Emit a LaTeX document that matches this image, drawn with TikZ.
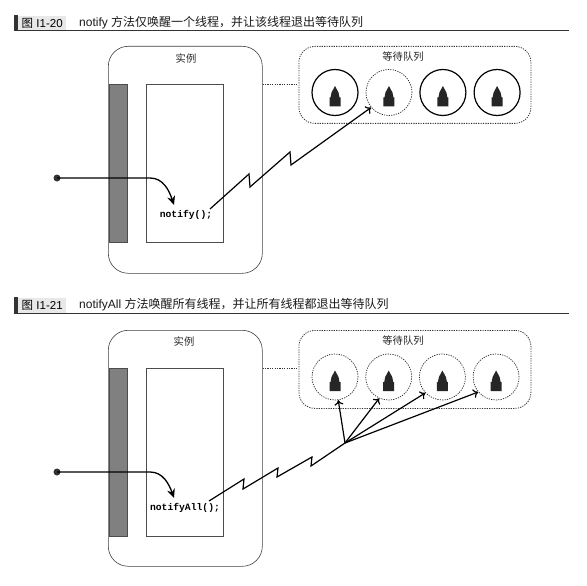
\documentclass[tikz,border=0pt]{standalone}
\usepackage{fontspec}
\setmainfont{Liberation Sans}
\setmonofont{Liberation Mono}
\newfontfamily\cjk{Noto Sans CJK SC}
\usetikzlibrary{positioning,arrows.meta}

\tikzset{
  hdtag/.style={fill=black!9,minimum width=48pt,minimum height=15pt,inner sep=0pt,anchor=south west,font=\fontsize{11.5}{12}\selectfont},
  hdbar/.style={fill=black!80,minimum width=4pt,minimum height=16pt,inner sep=0pt,anchor=south east},
  hdtitle/.style={inner sep=0pt,anchor=west,text=black!90,font=\fontsize{12}{12}\selectfont},
  inst/.style={draw=black!75,line width=0.6pt,rounded corners=20pt,minimum width=154pt,inner sep=0pt,anchor=north west},
  lock/.style={draw=black!70,fill=black!50,line width=0.5pt,minimum width=18pt,inner sep=0pt,anchor=north west},
  body/.style={draw=black!70,line width=0.6pt,minimum width=77pt,inner sep=0pt,anchor=north west},
  queue/.style={draw=black!80,dash pattern=on 1.2pt off 1.2pt,line width=0.8pt,rounded corners=16pt,fill=white,minimum width=232pt,minimum height=77pt,inner sep=0pt,anchor=north west},
  lbl/.style={inner sep=0pt,text=black!85,font=\fontsize{10.3}{10}\selectfont\cjk},
  thr/.style={circle,minimum size=46pt,inner sep=0pt,draw=black,line width=1.2pt},
  thrd/.style={circle,minimum size=46pt,inner sep=0pt,draw=black!85,line width=0.7pt,dash pattern=on 1.2pt off 1.2pt},
  code/.style={inner sep=0pt,font=\fontsize{9.7}{10}\selectfont\ttfamily\bfseries},
  dot/.style={circle,fill=black!80,minimum size=7pt,inner sep=0pt},
  call/.style={line width=1.3pt,-{Stealth[length=9pt,width=8pt]}},
  zig/.style={line width=1.2pt,-{To[length=5pt,width=9pt]}},
  link/.style={draw=black!80,line width=0.8pt,dash pattern=on 1.2pt off 1.2pt},
  house/.pic={\fill[black!85] (0,-6.5) -- (3.5,0) -- (4.5,5) -- (5.5,5) -- (5.5,14) -- (-5.5,14) -- (-5.5,5) -- (-4.5,5) -- (-3.5,0) -- cycle;}
}

\begin{document}
\begin{tikzpicture}[x=1pt,y=-1pt]

   \useasboundingbox (0,0) rectangle (587,586);

   \node (tag1) [hdtag] at (18,31) {{\cjk 图} I1-20};
   \node (bar1) [hdbar] at (tag1.south west) {};
   \node (title1) [hdtitle] at (79,23) {notify {\cjk 方法仅唤醒一个线程，并让该线程退出等待队列}};
   \coordinate (end1) at (569,31);
   \draw [black!80,line width=1pt] (bar1.south west) -- (end1);

   \node (inst1) [inst,minimum height=227pt] at (108,46) {};
   \node (lbl1) [lbl] at (186,59) {实例};
   \node (lock1) [lock,minimum height=158pt] at (108.5,84) {};
   \node (body1) [body,minimum height=158pt] at (146,84) {};
   \node (code1) [code] at (186,215) {notify();};

   \node (queue1) [queue] at (298.5,46) {};
   \node (qlbl1) [lbl] at (403,57) {等待队列};
   \node (qa1) [thr] at (335,92.5) {};
   \node (qb1) [thrd,right=7pt of qa1] {};
   \node (qc1) [thr,right=7pt of qb1] {};
   \node (qd1) [thr,right=7pt of qc1] {};
   \foreach \q in {qa1,qb1,qc1,qd1} \pic at (\q) {house};

   \coordinate (door1) at (inst1.east |- body1.north);
   \draw [link] (door1) -- (door1 -| queue1.west);

   \node (dot1) [dot] at (57,178) {};
   \coordinate (bend1) at (150,178);
   \coordinate (tip1) at (174,205);
   \draw [call] (dot1.center) -- (bend1) .. controls (163,178) and (169,190) .. (tip1);

   \coordinate (from1) at (210,209);
   \draw [zig] (from1) -- (249,174) -- (250,187) -- (290,152) -- (291,165) -- (qb1.220);


   \node (tag2) [hdtag] at (18,313) {{\cjk 图} I1-21};
   \node (bar2) [hdbar] at (tag2.south west) {};
   \node (title2) [hdtitle] at (79,305) {notifyAll {\cjk 方法唤醒所有线程，并让所有线程都退出等待队列}};
   \coordinate (end2) at (569,313);
   \draw [black!80,line width=1pt] (bar2.south west) -- (end2);

   \node (inst2) [inst,minimum height=236pt] at (108,330) {};
   \node (lbl2) [lbl] at (184,342) {实例};
   \node (lock2) [lock,minimum height=168pt] at (108.5,368) {};
   \node (body2) [body,minimum height=168pt] at (146,368) {};
   \node (code2) [code] at (185,508) {notifyAll();};

   \node (queue2) [queue,minimum height=78pt] at (298.5,330) {};
   \node (qlbl2) [lbl] at (403,341) {等待队列};
   \node (qa2) [thrd] at (335,377) {};
   \node (qb2) [thrd,right=7pt of qa2] {};
   \node (qc2) [thrd,right=7pt of qb2] {};
   \node (qd2) [thrd,right=7pt of qc2] {};
   \foreach \q in {qa2,qb2,qc2,qd2} \pic at (\q) {house};

   \coordinate (door2) at (inst2.east |- body2.north);
   \draw [link] (door2) -- (door2 -| queue2.west);

   \node (dot2) [dot] at (57,472) {};
   \coordinate (bend2) at (150,472);
   \coordinate (tip2) at (174,498);
   \draw [call] (dot2.center) -- (bend2) .. controls (163,472) and (169,484) .. (tip2);

   \coordinate (from2) at (209,501);
   \coordinate (fork2) at (345,443);
   \draw [line width=1.2pt] (from2) -- (244,479) -- (243,489) -- (278,468) -- (277,477) -- (312,457) -- (311,466) -- (fork2);
   \foreach \q/\a in {qa2/278,qb2/246,qc2/223,qd2/220}
     \draw [zig] (fork2) -- (\q.\a);

\end{tikzpicture}
\end{document}
